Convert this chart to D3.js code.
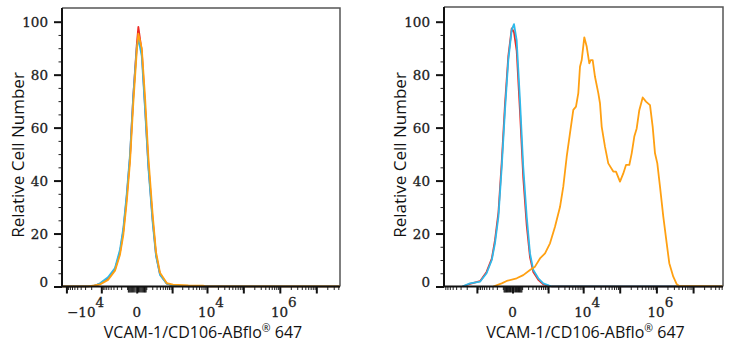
<!DOCTYPE html>
<html>
<head>
<meta charset="utf-8">
<script src="https://cdn.jsdelivr.net/npm/d3@7"></script>
<style>
  body { margin: 0; background: #fff; }
  svg { display: block; }
</style>
</head>
<body>
<svg id="chart" width="735" height="350"></svg>
<script>
// Flow cytometry overlays: VCAM-1/CD106-ABflo 647 staining, relative cell number vs intensity
// Intensities are on a biexponential (symlog) axis.

// Left panel: shared intensity grid for the three overlays
const leftIntensity = [-13250, -2470, -1600, -1094, -613, -352, -224, -159, -105, -63, -29, 0, 13, 45, 83, 130, 209, 286, 402, 677, 1066, 3000, 7740, 9500, 44580000];
const leftRed    = [0, 0, 0.3, 1.0, 3.0, 6.5, 13, 21, 34, 49, 72, 91, 98, 89, 68, 46, 25, 12, 4.6, 1.1, 0.4, 0, 0, 0, 0];
const leftCyan   = [0, 0, 0.3, 1.2, 3.5, 7.0, 14, 22, 35, 50, 72, 90, 93.5, 87, 67, 45, 24, 11.5, 4.4, 1.1, 0.4, 0, 0, 0, 0];
const leftOrange = [0, 0, 0.4, 0.8, 2.5, 6.0, 12, 19.5, 32, 47, 69, 88.5, 95.5, 90, 71.5, 49, 27, 13, 5.2, 1.3, 0.7, 0.4, 0.3, 0, 0];

// Right panel: controls share one grid, stained sample has its own
const rightIntensity = [-2600, -2500, -1600, -800, -490, -320, -240, -170, -116, -72, -36, -6, 12, 36, 72, 116, 173, 240, 323, 486, 708, 1284, 65300000];
const rightRed  = [0, 0.1, 1.0, 2.0, 5.5, 10.5, 17.5, 28, 47, 69, 87, 97.5, 96, 89, 66, 41, 23, 11, 5.5, 2.5, 0.8, 0, 0];
const rightCyan = [0, 0.2, 1.2, 1.8, 5.0, 10, 16.3, 26.4, 45, 66.6, 85.5, 96.9, 99.1, 93, 70.4, 45, 26.4, 12.5, 6.2, 3.1, 1.2, 0, 0];
const rightOrangeIntensity = [-280, -116, -53, 36, 116, 240, 372, 553, 803, 1142,
  1607, 2242, 2785, 3479, 4308, 5328, 6324, 7332, 8160, 9108,
  10730, 12500, 14740, 16100, 18250, 21120, 26020, 28930, 32260, 39610,
  48770, 66900, 79160, 101790, 125260, 148500, 182760, 212290, 250000, 290400,
  342000, 423700, 521300, 670100, 792700, 916400, 1059600, 1253500, 1542200, 1910500,
  2244700, 2885200, 3574100, 4208900, 65300000];
const rightOrange = [0, 1.2, 2.1, 3.1, 4.3, 6.2, 7.5, 10.6, 12.5, 16.3,
  22.6, 30, 37.7, 49, 57.9, 66.7, 67.9, 73, 83, 85.5,
  94.1, 90.6, 84.3, 85.5, 85.5, 79.2, 73, 69.2, 60.3, 52.8,
  46.5, 43.4, 43.4, 39.6, 42.7, 45.9, 45.9, 50.3, 56.6, 59.7,
  66.6, 71.4, 69.8, 68.5, 60.3, 50.3, 46.5, 37.7, 26.4, 16.3,
  8.8, 3.7, 0.9, 0.2, 0];

// Axis ticks and labels
const yMajorTicks = [0, 20, 40, 60, 80, 100];
const yMinorTicks = [5, 10, 15, 25, 30, 35, 45, 50, 55, 65, 70, 75, 85, 90, 95];
const xMajorTicks = [-10000, -1000, 0, 1000, 10000, 100000, 1000000, 10000000];
const leftXLabels = [-10000, 0, 10000, 1000000];
const rightXLabels = [0, 10000, 1000000];
const axisTitle = "VCAM-1/CD106-ABflo";
const yTitle = "Relative Cell Number";

const RED = "#ee2a24", CYAN = "#2fb9ea", ORANGE = "#ffa012";

const svg = d3.select("#chart");

const panels = [
  { x0: 62, x1: 340, top: 8, xDomain: [-13250, 44580000], labels: leftXLabels, yTitleX: 24,
    series: [
      { x: leftIntensity, y: leftRed, color: RED },
      { x: leftIntensity, y: leftCyan, color: CYAN },
      { x: leftIntensity, y: leftOrange, color: ORANGE }
    ] },
  { x0: 444, x1: 723, top: 7, xDomain: [-8700, 65300000], labels: rightXLabels, yTitleX: 406,
    series: [
      { x: rightIntensity, y: rightRed, color: RED },
      { x: rightIntensity, y: rightCyan, color: CYAN },
      { x: rightOrangeIntensity, y: rightOrange, color: ORANGE }
    ] }
];

const yBase = 286.5;
const tickFont = "'DejaVu Serif', serif";
const titleFont = "'Open Sans', sans-serif";

// minor ticks for the biexponential axis: m x 10^k on both sides of zero
function minorTicks(domain) {
  const out = [];
  for (let k = 1; k <= 7; k++) {
    for (let m = 1; m <= 9; m++) {
      const v = m * Math.pow(10, k);
      if (m === 1 && k >= 3) continue;
      [v, -v].forEach(t => { if (t >= domain[0] && t <= domain[1]) out.push(t); });
    }
  }
  return out;
}

panels.forEach(p => {
  const g = svg.append("g");
  const x = d3.scaleSymlog().constant(120).domain(p.xDomain).range([p.x0, p.x1]);
  const y = d3.scaleLinear().domain([0, 100]).range([yBase, 21.7]);

  // frame (top and right)
  g.append("path")
    .attr("d", `M${p.x0},${p.top}H${p.x1}V${yBase}`)
    .attr("fill", "none").attr("stroke", "#555").attr("stroke-width", 1.5);

  // histogram overlays
  const clipId = "clip" + p.x0;
  g.append("clipPath").attr("id", clipId).append("rect")
    .attr("x", p.x0).attr("y", p.top).attr("width", p.x1 - p.x0).attr("height", yBase - p.top + 1);
  const plot = g.append("g").attr("clip-path", `url(#${clipId})`);
  p.series.forEach(s => {
    const pts = s.x.map((v, i) => [v, s.y[i]]);
    plot.append("path")
      .datum(pts)
      .attr("fill", "none")
      .attr("stroke", s.color)
      .attr("stroke-width", 1.8)
      .attr("stroke-linejoin", "round")
      .attr("d", d3.line().x(d => x(d[0])).y(d => y(d[1])));
  });

  // y axis
  const yAxisMinor = g.append("g").attr("transform", `translate(${p.x0},0)`)
    .call(d3.axisLeft(y).tickValues(yMinorTicks).tickSize(3.5).tickSizeOuter(0).tickFormat(""));
  yAxisMinor.select(".domain").remove();
  yAxisMinor.selectAll("line").attr("stroke", "#222").attr("stroke-width", 1);

  const yAxis = g.append("g").attr("transform", `translate(${p.x0},0)`)
    .call(d3.axisLeft(y).tickValues(yMajorTicks).tickSize(8).tickPadding(6).tickSizeOuter(0));
  yAxis.select(".domain").remove();
  yAxis.selectAll("line").attr("stroke", "#111").attr("stroke-width", 2);
  yAxis.selectAll("text")
    .attr("font-family", tickFont).attr("font-size", 13.5).attr("fill", "#222")
    .attr("stroke", "#222").attr("stroke-width", 0.3)
    .attr("dy", d => d === 0 ? "0.02em" : "0.34em");

  // x axis: minor, near-zero and major ticks
  const xg = g.append("g").attr("transform", `translate(0,${yBase})`);
  const minors = minorTicks(p.xDomain);
  const nearZero = minors.filter(v => Math.abs(v) < 100);
  const farMinor = minors.filter(v => Math.abs(v) >= 100);
  const xMinor = xg.append("g").call(d3.axisBottom(x).tickValues(farMinor).tickSize(3.5).tickSizeOuter(0).tickFormat(""));
  xMinor.select(".domain").remove();
  xMinor.selectAll("line").attr("stroke", "#222").attr("stroke-width", 1);
  const xNear = xg.append("g").call(d3.axisBottom(x).tickValues(nearZero).tickSize(6).tickSizeOuter(0).tickFormat(""));
  xNear.select(".domain").remove();
  xNear.selectAll("line").attr("stroke", "#111").attr("stroke-width", 1);
  const majors = xMajorTicks.filter(v => v >= p.xDomain[0] && v <= p.xDomain[1]);
  const xMajor = xg.append("g").call(d3.axisBottom(x).tickValues(majors).tickSize(7).tickSizeOuter(0).tickFormat(""));
  xMajor.select(".domain").remove();
  xMajor.selectAll("line").attr("stroke", "#111").attr("stroke-width", 2);

  // axis lines (left and bottom)
  g.append("path")
    .attr("d", `M${p.x0},${p.top}V${yBase}H${p.x1}`)
    .attr("fill", "none").attr("stroke", "#111").attr("stroke-width", 2);

  // x tick labels with superscript exponents
  p.labels.forEach(v => {
    const t = g.append("text")
      .attr("y", 316.5)
      .attr("font-family", tickFont).attr("font-size", 13.5).attr("fill", "#222")
      .attr("stroke", "#222").attr("stroke-width", 0.3);
    if (v === 0) {
      t.attr("x", x(v)).attr("text-anchor", "middle").text("0");
    } else {
      const exp = Math.round(Math.log10(Math.abs(v)));
      t.attr("x", x(v) + 4).attr("text-anchor", "middle");
      t.append("tspan").text((v < 0 ? "\u2212" : "") + "10");
      t.append("tspan").attr("dy", -9.5).text(exp);
      const bb = t.node().getBBox();
      if (bb.x < p.x0 + 5) t.attr("x", x(v) + 4 + (p.x0 + 5 - bb.x));
    }
  });

  // axis titles
  const xt = g.append("text")
    .attr("x", (p.x0 + p.x1) / 2 + 2).attr("y", 337.5)
    .attr("text-anchor", "middle")
    .attr("font-family", titleFont).attr("font-size", 16).attr("fill", "#111");
  xt.append("tspan").text(axisTitle);
  xt.append("tspan").attr("font-size", 10.5).attr("dy", -5.5).text("\u00AE");
  xt.append("tspan").attr("dy", 5.5).text(" 647");

  g.append("text")
    .attr("transform", `translate(${p.yTitleX},155) rotate(-90)`)
    .attr("text-anchor", "middle")
    .attr("font-family", titleFont).attr("font-size", 17).attr("fill", "#111")
    .text(yTitle);
});
</script>
</body>
</html>
